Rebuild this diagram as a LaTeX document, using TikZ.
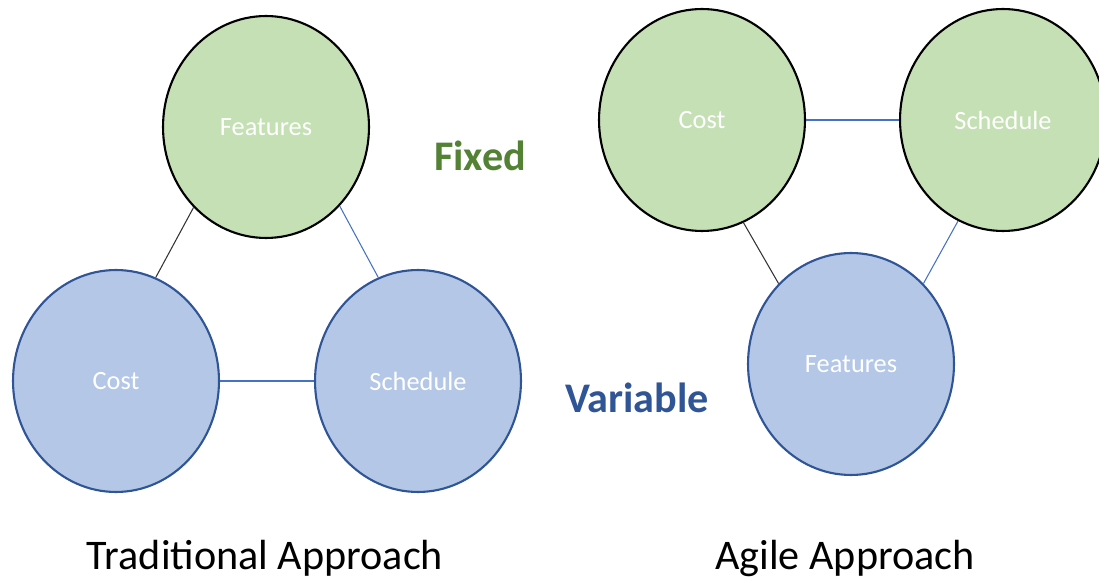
\documentclass[tikz,border=0pt]{standalone}
\usepackage{fontspec}
\setmainfont{Carlito}
\usetikzlibrary{shapes.geometric}

\definecolor{fixfill}{HTML}{C5E0B4}
\definecolor{varfill}{HTML}{B4C7E7}
\definecolor{varline}{HTML}{2F5597}
\definecolor{linkblue}{HTML}{4472C4}
\definecolor{fixtext}{HTML}{548235}

\begin{document}
\begin{tikzpicture}[x=0.02cm, y=-0.02cm,
			fixcircle/.style={ellipse, draw=black, line width=1.2pt, fill=fixfill,
				minimum width=4.12cm, minimum height=4.44cm, inner sep=0pt,
				text=white, font=\fontsize{15}{18}\selectfont},
			varcircle/.style={ellipse, draw=varline, line width=1.2pt, fill=varfill,
				minimum width=4.12cm, minimum height=4.44cm, inner sep=0pt,
				text=white, font=\fontsize{15}{18}\selectfont},
			link/.style={draw=linkblue, line width=0.6pt},
			blacklink/.style={draw=black!80, line width=0.6pt},
			title/.style={font=\fontsize{24}{28}\selectfont, text=black}]
			\useasboundingbox (0, 0) rectangle (1099, 580);
			% traditional
			\node[fixcircle] (tfeat) at (266, 127) {Features};
			\node[varcircle] (tcost) at (116, 381) {Cost};
			\node[varcircle] (tsched) at (418, 381) {Schedule};
			% agile
			\node[fixcircle] (acost) at (702, 120) {Cost};
			\node[fixcircle] (asched) at (1003, 120) {Schedule};
			\node[varcircle] (afeat) at (851, 364) {Features};
			
			\node[text=fixtext, font=\fontsize{24}{28}\selectfont\bfseries] (fixed) at (480, 156) {Fixed};
			\node[text=varline, font=\fontsize{24}{28}\selectfont\bfseries] (var) at (637, 398) {Variable};
			\node[title] (ttrad) at (265, 558) {Traditional Approach};
			\node[title] (tagile) at (845, 558) {Agile Approach};
			
			\path[blacklink] 	(tfeat.228)  --   (tcost.69);
			\path[link] 	(tfeat.313)  --   (tsched.111);
			\path[link] 	(tcost)  --   (tsched);
			\path[link] 	(acost)  --   (asched);
			\path[blacklink] 	(acost.292)  --   (afeat.132);
			\path[link] 	(asched.246)  --   (afeat.48);
			\end{tikzpicture}
\end{document}
